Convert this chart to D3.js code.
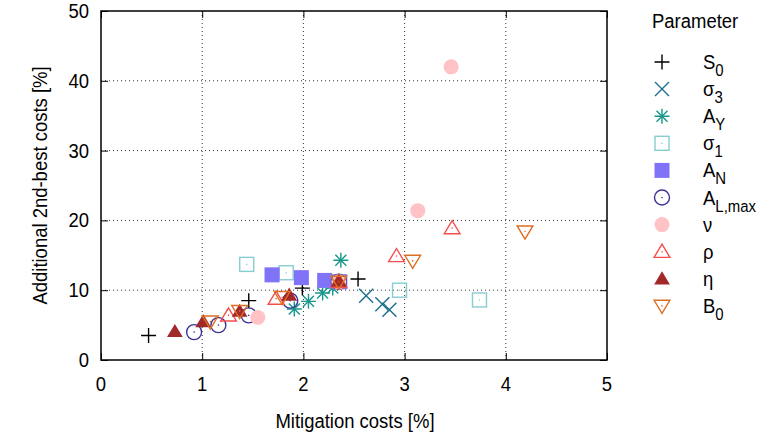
<!DOCTYPE html>
<html><head><meta charset="utf-8">
<script src="https://cdn.jsdelivr.net/npm/d3@7"></script>
<style>body{margin:0;background:#fff}svg{display:block;font-family:"Liberation Sans",Arial,sans-serif}</style>
</head><body><svg id="c" width="761" height="436"></svg>
<script>
// Data: [mitigation costs %, additional 2nd-best costs %]
const S0      = [[0.47,3.5],[1.46,8.5],[1.99,10.3],[2.54,11.6]];
const sigma3  = [[2.35,11.2],[2.62,9.2],[2.78,8.0],[2.85,7.2]];
const AY      = [[1.91,7.3],[2.05,8.4],[2.19,9.6],[2.29,10.3],[2.37,14.3]];
const sigma1  = [[1.44,13.7],[1.83,12.5],[2.95,10.0],[3.74,8.6]];
const AN      = [[1.69,12.2],[1.98,11.8],[2.21,11.4],[2.36,11.2]];
const ALmax   = [[0.92,4.0],[1.16,5.0],[1.46,6.4],[1.87,8.5],[2.35,11.2]];
const nu      = [[1.55,6.1],[2.35,11.2],[3.13,21.4],[3.46,42.0]];
const rho     = [[1.26,6.4],[1.73,8.8],[2.35,11.2],[2.92,14.9],[3.47,18.9]];
const eta     = [[0.73,4.1],[1.01,5.5],[1.37,7.0],[1.86,9.3],[2.35,11.3]];
const B0      = [[1.08,5.5],[1.37,7.0],[1.79,9.0],[2.35,11.2],[3.08,14.2],[4.19,18.4]];
const xTicks = [0,1,2,3,4,5];
const yTicks = [0,10,20,30,40,50];

const series = [
  {name:["S","0"], data:S0, shape:"plus", color:"#000000"},
  {name:["σ","3"], data:sigma3, shape:"cross", color:"#1e6f8e"},
  {name:["A","Y"], data:AY, shape:"star", color:"#16968c"},
  {name:["σ","1"], data:sigma1, shape:"osquare", color:"#86cdd2"},
  {name:["A","N"], data:AN, shape:"fsquare", color:"#8073f7"},
  {name:["A","L,max"], data:ALmax, shape:"ocircle", color:"#3c3494"},
  {name:["ν",""], data:nu, shape:"fcircle", color:"#ffc2c6"},
  {name:["ρ",""], data:rho, shape:"otri", color:"#f84d4d"},
  {name:["η",""], data:eta, shape:"ftri", color:"#a3282a"},
  {name:["B","0"], data:B0, shape:"otrid", color:"#dd6f22"}
];

const FS = 21, SX = 0.88;
const svg = d3.select("#c");
const L=101, R=607, T=11, B=360;
const x = d3.scaleLinear().domain([0,5]).range([L,R]);
const y = d3.scaleLinear().domain([0,50]).range([B,T]);

// narrow text helper: text anchored at (px,py)
function ntext(sel, px, py, str, anchor, rot){
  const t = sel.append("text")
    .attr("transform",`translate(${px},${py})${rot?` rotate(${rot})`:""} scale(${SX},1)`)
    .attr("text-anchor",anchor||"start").attr("font-size",FS).attr("fill","#000");
  if(str!==undefined) t.text(str);
  return t;
}

// grid
const g = svg.append("g");
xTicks.slice(1,-1).forEach(t=>{
  g.append("line").attr("x1",x(t)).attr("x2",x(t)).attr("y1",T).attr("y2",B)
   .attr("stroke","#333").attr("stroke-width",1).attr("stroke-dasharray","1,3");
});
yTicks.slice(1,-1).forEach(t=>{
  g.append("line").attr("x1",L).attr("x2",R).attr("y1",y(t)).attr("y2",y(t))
   .attr("stroke","#333").attr("stroke-width",1).attr("stroke-dasharray","1,3");
});

// axes with inward ticks
const tl = 7;
svg.append("g").attr("transform",`translate(0,${B})`)
  .call(d3.axisBottom(x).tickValues(xTicks).tickSize(-tl).tickFormat(""))
  .call(a=>{a.select(".domain").remove();a.selectAll("line").attr("stroke","#000");});
svg.append("g").attr("transform",`translate(0,${T})`)
  .call(d3.axisTop(x).tickValues(xTicks).tickSize(-tl).tickFormat(""))
  .call(a=>{a.select(".domain").remove();a.selectAll("line").attr("stroke","#000");});
svg.append("g").attr("transform",`translate(${L},0)`)
  .call(d3.axisLeft(y).tickValues(yTicks).tickSize(-tl).tickFormat(""))
  .call(a=>{a.select(".domain").remove();a.selectAll("line").attr("stroke","#000");});
svg.append("g").attr("transform",`translate(${R},0)`)
  .call(d3.axisRight(y).tickValues(yTicks).tickSize(-tl).tickFormat(""))
  .call(a=>{a.select(".domain").remove();a.selectAll("line").attr("stroke","#000");});
svg.append("rect").attr("x",L).attr("y",T).attr("width",R-L).attr("height",B-T)
  .attr("fill","none").attr("stroke","#000").attr("stroke-width",1.5);

// tick labels
const tlab = svg.append("g");
xTicks.forEach(t=> ntext(tlab, x(t), 391, String(t), "middle"));
yTicks.forEach(t=> ntext(tlab, 89, y(t)+7, String(t), "end"));

// axis titles
ntext(svg, (L+R)/2+1, 428, "Mitigation costs [%]", "middle");
ntext(svg, 47, (T+B)/2, "Additional 2nd-best costs [%]", "middle", -90);

function marker(sel, shape, color, cx, cy){
  const sw = 1.4;
  const dot = ()=> sel.append("circle").attr("cx",cx).attr("cy",cy).attr("r",0.8).attr("fill",color);
  if(shape==="plus"||shape==="star"){
    const s=7.5;
    sel.append("path").attr("d",`M${cx-s},${cy}H${cx+s}M${cx},${cy-s}V${cy+s}`).attr("stroke",color).attr("stroke-width",sw).attr("fill","none");
  }
  if(shape==="cross"||shape==="star"){
    const s=shape==="star"?5.5:7;
    sel.append("path").attr("d",`M${cx-s},${cy-s}L${cx+s},${cy+s}M${cx-s},${cy+s}L${cx+s},${cy-s}`).attr("stroke",color).attr("stroke-width",sw).attr("fill","none");
  }
  if(shape==="osquare"){
    sel.append("rect").attr("x",cx-7).attr("y",cy-7).attr("width",14).attr("height",14).attr("fill","none").attr("stroke",color).attr("stroke-width",sw);
    dot();
  }
  if(shape==="fsquare"){
    sel.append("rect").attr("x",cx-7.5).attr("y",cy-7.5).attr("width",15).attr("height",15).attr("fill",color);
  }
  if(shape==="ocircle"){
    sel.append("circle").attr("cx",cx).attr("cy",cy).attr("r",7.5).attr("fill","none").attr("stroke",color).attr("stroke-width",sw);
    dot();
  }
  if(shape==="fcircle"){
    sel.append("circle").attr("cx",cx).attr("cy",cy).attr("r",7.5).attr("fill",color);
  }
  if(shape==="otri"||shape==="ftri"){
    const h=7.5;
    const p=`M${cx},${cy-h}L${cx+h*1.05},${cy+h*0.75}L${cx-h*1.05},${cy+h*0.75}Z`;
    if(shape==="otri"){sel.append("path").attr("d",p).attr("fill","none").attr("stroke",color).attr("stroke-width",sw);dot();}
    else sel.append("path").attr("d",p).attr("fill",color);
  }
  if(shape==="otrid"){
    const h=7.5;
    const p=`M${cx},${cy+h}L${cx+h*1.05},${cy-h*0.75}L${cx-h*1.05},${cy-h*0.75}Z`;
    sel.append("path").attr("d",p).attr("fill","none").attr("stroke",color).attr("stroke-width",sw);dot();
  }
}

const pts = svg.append("g");
series.forEach(s=>{
  const gs = pts.append("g");
  s.data.forEach(d=>marker(gs, s.shape, s.color, x(d[0]), y(d[1])));
});

// legend
const lg = svg.append("g");
ntext(lg, 652, 28, "Parameter");
series.forEach((s,i)=>{
  const cy = 62 + i*27.1;
  marker(lg, s.shape, s.color, 662, cy);
  const t = ntext(lg, 703, cy+7);
  t.append("tspan").text(s.name[0]);
  if(s.name[1]) t.append("tspan").attr("dy",7).attr("font-size",17).text(s.name[1]);
});
</script></body></html>
